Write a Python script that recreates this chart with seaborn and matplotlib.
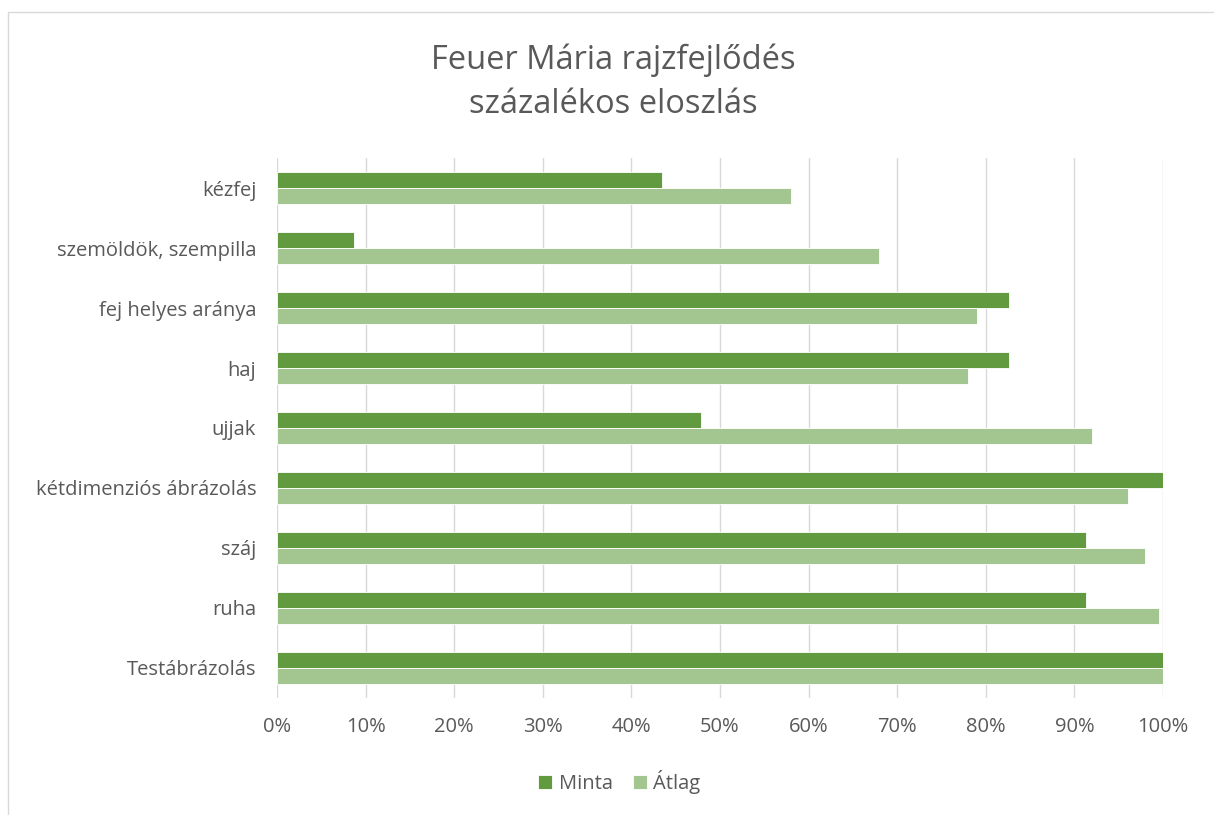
import matplotlib.pyplot as plt
import matplotlib.lines as mlines
import matplotlib.ticker as mticker
import pandas as pd
import seaborn as sns

categories = ['kézfej', 'szemöldök, szempilla', 'fej helyes aránya', 'haj', 'ujjak',
              'kétdimenziós ábrázolás', 'száj', 'ruha', 'Testábrázolás']
minta = [43.5, 8.7, 82.6, 82.6, 47.8, 100, 91.3, 91.3, 100]
atlag = [58, 68, 79, 78, 92, 96, 98, 99.5, 100]
series = ['Minta', 'Átlag']
xticks = list(range(0, 101, 10))

df = pd.DataFrame({'kategoria': categories * 2,
                   'ertek': minta + atlag,
                   'sorozat': [series[0]] * len(categories) + [series[1]] * len(categories)})

sns.set_style('white')
plt.rcParams['font.family'] = ['Open Sans', 'DejaVu Sans']
txt = '#595959'

fig = plt.figure(figsize=(12.14, 8.15), dpi=100)
ax = fig.add_axes([0.2282, 0.1436, 0.958 - 0.2282, 0.8061 - 0.1436])

sns.barplot(data=df, y='kategoria', x='ertek', hue='sorozat', orient='h',
            palette=['#629A3F', '#A3C58F'], saturation=1, width=0.52,
            linewidth=0.6, edgecolor='white', ax=ax, legend=True)

ax.set_xlim(0, 100)
ax.set_xticks(xticks)
ax.xaxis.set_major_formatter(mticker.FuncFormatter(lambda v, p: f'{v:.0f}%'))
ax.grid(axis='x', color='#D9D9D9', linewidth=1)
ax.set_axisbelow(True)
for s in ax.spines.values():
    s.set_visible(False)
ax.tick_params(axis='both', length=0, labelsize=14.5, labelcolor=txt)
ax.tick_params(axis='x', pad=14)
ax.tick_params(axis='y', pad=15)
ax.set_xlabel('')
ax.set_ylabel('')

handles, labels = ax.get_legend_handles_labels()
ax.get_legend().remove()
fig.legend(handles, labels, loc='center', bbox_to_anchor=(0.51, 0.04), ncol=2, frameon=False,
           handlelength=0.7, handleheight=0.7, handletextpad=0.3, columnspacing=1.0,
           labelcolor=txt, prop={'size': 14.5})

fig.text(0.505, 0.926, 'Feuer Mária rajzfejlődés', ha='center', va='center',
         fontsize=23.5, color=txt)
fig.text(0.505, 0.872, 'százalékos eloszlás', ha='center', va='center',
         fontsize=23.5, color=txt)

# chart frame
fig.add_artist(mlines.Line2D([8 / 1214, 1], [1 - 12 / 815, 1 - 12 / 815], color='#D9D9D9', lw=1))
fig.add_artist(mlines.Line2D([8 / 1214, 8 / 1214], [0, 1 - 12 / 815], color='#D9D9D9', lw=1))

plt.savefig('out.png')
